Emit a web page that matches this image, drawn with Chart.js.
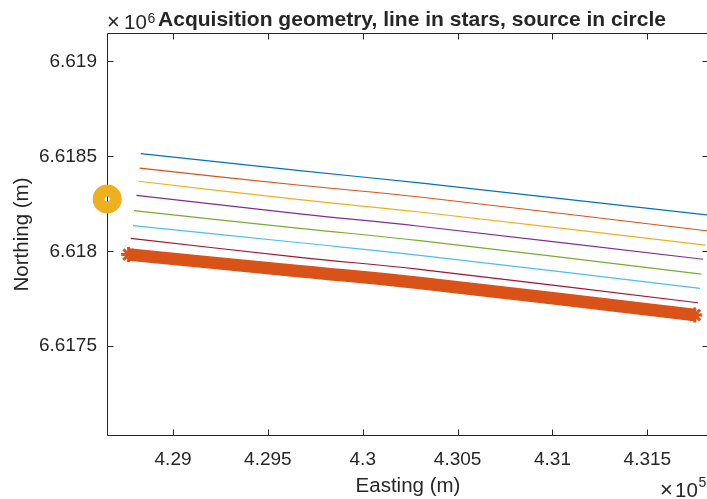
<!DOCTYPE html>
<html lang="en">
<head>
<meta charset="UTF-8">
<title>Acquisition geometry</title>
<script src="https://cdn.jsdelivr.net/npm/chart.js"></script>
<style>
  body { margin: 0; background: #fff; overflow: hidden; }
  #wrap { width: 707px; height: 499px; overflow: hidden; }
  canvas { display: block; }
</style>
</head>
<body>
<div id="wrap"><canvas id="geom" width="712" height="499"></canvas></div>
<script>
// receiver lines, easting / northing in metres
const blueEast    = [428830, 429668, 430300, 431835];
const blueNorth   = [6618515, 6618425, 6618360, 6618189];
const orangeEast  = [428824, 429668, 430300, 431822];
const orangeNorth = [6618438, 6618348, 6618286, 6618107];
const yellowEast  = [428818, 429668, 430300, 431806];
const yellowNorth = [6618369, 6618272, 6618207, 6618033];
const purpleEast  = [428807, 429668, 430300, 431794];
const purpleNorth = [6618295, 6618197, 6618132, 6617958];
const greenEast   = [428794, 429668, 430300, 431785];
const greenNorth  = [6618214, 6618121, 6618056, 6617880];
const cyanEast    = [428789, 429668, 430300, 431778];
const cyanNorth   = [6618135, 6618045, 6617979, 6617805];
const redEast     = [428777, 429668, 430300, 431767];
const redNorth    = [6618068, 6617968, 6617905, 6617729];

// line in stars
const starEast  = [428766, 429668, 430300, 431750];
const starNorth = [6617983, 6617895, 6617833, 6617664];

// source in circle
const srcEast  = [428653];
const srcNorth = [6618276];

const xTickVals   = [429000, 429500, 430000, 430500, 431000, 431500];
const xTickLabels = ['4.29', '4.295', '4.3', '4.305', '4.31', '4.315'];
const yTickVals   = [6617500, 6618000, 6618500, 6619000];
const yTickLabels = ['6.6175', '6.618', '6.6185', '6.619'];

const INK = '#262626';
const FONT = '"Liberation Sans", Arial, Helvetica, sans-serif';

function pts(xs, ys) {
    return xs.map((x, i) => ({ x: x, y: ys[i] }));
}

function lineSet(xs, ys, color) {
    return {
        data: pts(xs, ys), showLine: true, borderColor: color, borderWidth: 1.2,
        pointRadius: 0, tension: 0.4, fill: false
    };
}

// matlab style box with inward ticks, title and exponent labels
const matlabBox = {
    id: 'matlabBox',
    beforeDatasetsDraw(chart) {
        const { ctx, chartArea: a, scales } = chart;
        const L = Math.round(a.left) + 0.5, R = Math.round(a.right) - 0.5;
        const T = Math.round(a.top) + 0.5, B = Math.round(a.bottom) - 0.5;
        ctx.save();
        ctx.strokeStyle = INK;
        ctx.lineWidth = 1;
        ctx.beginPath();
        ctx.rect(L, T, R - L, B - T);
        xTickVals.forEach(v => {
            const px = Math.round(scales.x.getPixelForValue(v)) + 0.5;
            ctx.moveTo(px, B); ctx.lineTo(px, B - 6);
            ctx.moveTo(px, T); ctx.lineTo(px, T + 6);
        });
        yTickVals.forEach(v => {
            const py = Math.round(scales.y.getPixelForValue(v)) + 0.5;
            ctx.moveTo(L, py); ctx.lineTo(L + 6, py);
            ctx.moveTo(R, py); ctx.lineTo(R - 6, py);
        });
        ctx.stroke();
        ctx.restore();
    },
    afterDraw(chart) {
        const ctx = chart.ctx;
        ctx.save();
        ctx.fillStyle = INK;
        ctx.textBaseline = 'alphabetic';
        ctx.textAlign = 'left';

        // title, fitted to its width in the figure
        const title = 'Acquisition geometry, line in stars, source in circle';
        ctx.font = 'bold 21px ' + FONT;
        const w = ctx.measureText(title).width;
        ctx.save();
        ctx.translate(158, 26);
        ctx.scale(508 / w, 1);
        ctx.fillText(title, 0, 0);
        ctx.restore();

        // exponents
        ctx.font = '22px ' + FONT;
        ctx.fillText('\u00d7', 107, 29);
        ctx.font = '20.5px ' + FONT;
        ctx.fillText('10', 124, 29);
        ctx.font = '14px ' + FONT;
        ctx.fillText('6', 147.5, 22.5);

        ctx.font = '22px ' + FONT;
        ctx.fillText('\u00d7', 660, 497);
        ctx.font = '20.5px ' + FONT;
        ctx.fillText('10', 675, 497);
        ctx.font = '14px ' + FONT;
        ctx.fillText('5', 698.5, 487);
        ctx.restore();
    }
};

new Chart(document.getElementById('geom'), {
    type: 'scatter',
    data: {
        datasets: [
            {
                data: pts(srcEast, srcNorth), pointStyle: 'circle', pointRadius: 8.5,
                borderWidth: 12, borderColor: '#EDB120', backgroundColor: 'rgba(0,0,0,0)', clip: false
            },
            lineSet(blueEast, blueNorth, '#0072BD'),
            lineSet(orangeEast, orangeNorth, '#D95319'),
            lineSet(yellowEast, yellowNorth, '#EDB120'),
            lineSet(purpleEast, purpleNorth, '#7E2F8E'),
            lineSet(greenEast, greenNorth, '#77AC30'),
            lineSet(cyanEast, cyanNorth, '#4DBEEE'),
            lineSet(redEast, redNorth, '#A2142F'),
            {
                data: pts(starEast, starNorth), showLine: true, borderColor: '#D95319',
                borderWidth: 12.5, borderCapStyle: 'butt', tension: 0.4,
                pointStyle: 'star', pointRadius: [7.5, 0, 0, 7.5], pointBorderWidth: 3,
                pointBorderColor: '#D95319', pointBackgroundColor: '#D95319'
            }
        ]
    },
    options: {
        responsive: false,
        animation: false,
        layout: { autoPadding: false, padding: { top: 33, right: 3, bottom: 0, left: 0 } },
        plugins: { legend: { display: false }, tooltip: { enabled: false }, title: { display: false } },
        scales: {
            x: {
                type: 'linear', min: 428652, max: 431825,
                grid: { display: false, drawTicks: false }, border: { display: false },
                afterBuildTicks: s => { s.ticks = xTickVals.map(v => ({ value: v })); },
                afterFit: s => { s.height = 63; s.paddingLeft = 0; s.paddingRight = 0; },
                ticks: {
                    color: INK, font: { family: FONT, size: 19 }, padding: 12, maxRotation: 0,
                    autoSkip: false, callback: (v, i) => xTickLabels[i]
                },
                title: { display: true, text: 'Easting (m)', color: INK, font: { family: FONT, size: 20.5 }, padding: { top: 0, bottom: 0 } }
            },
            y: {
                type: 'linear', min: 6617027, max: 6619150,
                grid: { display: false, drawTicks: false }, border: { display: false },
                afterBuildTicks: s => { s.ticks = yTickVals.map(v => ({ value: v })); },
                afterFit: s => { s.width = 107; s.paddingTop = 0; s.paddingBottom = 0; },
                ticks: {
                    color: INK, font: { family: FONT, size: 19 }, padding: 10,
                    autoSkip: false, callback: (v, i) => yTickLabels[i]
                },
                title: { display: true, text: 'Northing (m)', color: INK, font: { family: FONT, size: 20.5 }, padding: { top: 10, bottom: 0 } }
            }
        }
    },
    plugins: [matlabBox]
});
</script>
</body>
</html>
